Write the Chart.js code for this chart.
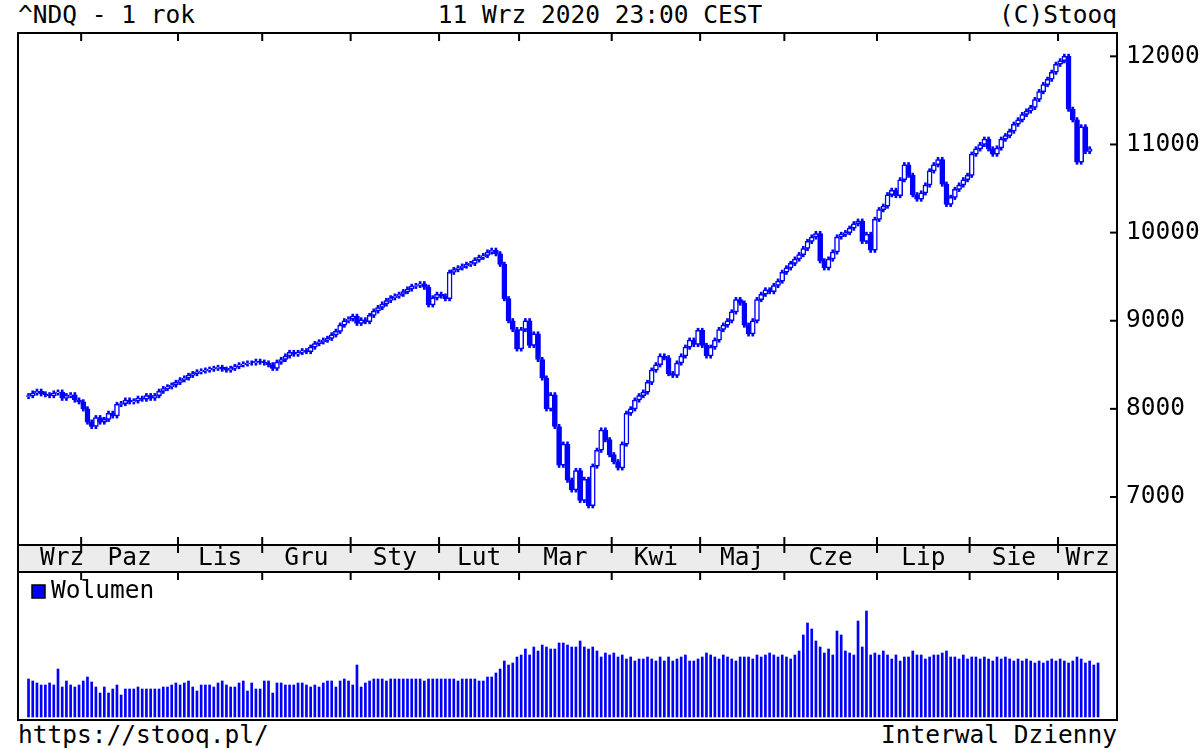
<!DOCTYPE html>
<html><head><meta charset="utf-8">
<script src="https://cdn.jsdelivr.net/npm/chart.js@4.4.0/dist/chart.umd.min.js"></script>
<style>
body{margin:0;background:#fff;width:1200px;height:750px;overflow:hidden;position:relative;font-family:"DejaVu Sans Mono",monospace}
canvas{position:absolute;left:0}
.t{position:absolute;font-size:24.5px;color:#000;white-space:pre;line-height:24px}
</style></head><body>
<div class="t" style="left:18px;top:3px">^NDQ - 1 rok</div>
<div class="t" style="left:0;width:1200px;text-align:center;top:3px">11 Wrz 2020 23:00 CEST</div>
<div class="t" style="right:83px;top:3px">(C)Stooq</div>
<div class="t" style="left:18px;top:723px">https://stooq.pl/</div>
<div class="t" style="right:83px;top:723px">Interwal Dzienny</div>
<div style="position:absolute;left:0;top:0;width:1200px;height:572px"><canvas id="c1"></canvas></div>
<div style="position:absolute;left:0;top:572px;width:1200px;height:178px"><canvas id="c2"></canvas></div>
<script>
const monthNames=["Wrz","Paz","Lis","Gru","Sty","Lut","Mar","Kwi","Maj","Cze","Lip","Sie","Wrz"];
const monthDays=[13,23,20,21,21,19,22,21,20,22,22,21,8];
const closes=[
8150,8180,8200,8170,8160,8150,8180,8190,8120,8150,8160,8100,8080,
8000,7850,7800,7900,7850,7880,7950,7920,8050,8060,8100,8080,8090,8120,8110,8150,8120,8150,8200,8230,8250,8270,8300,
8330,8350,8380,8400,8420,8430,8440,8450,8460,8470,8450,8440,8460,8480,8500,8510,8520,8520,8540,8530,
8520,8500,8460,8530,8560,8600,8640,8620,8640,8660,8650,8700,8740,8760,8780,8800,8840,8880,8950,9000,9020,
9050,8970,9010,8990,9060,9110,9150,9190,9230,9260,9280,9300,9330,9360,9390,9400,9420,9380,9180,9260,9300,
9280,9250,9550,9580,9600,9620,9640,9650,9690,9720,9740,9780,9800,9760,9640,9250,9000,8900,8680,
8900,9000,8720,8850,8560,8350,8000,8160,7800,7360,7600,7190,7080,7300,6960,7200,6900,7350,7530,7760,7650,7480,
7400,7330,7600,7950,8000,8100,8150,8190,8300,8440,8500,8600,8580,8400,8380,8520,8600,8700,8780,8730,8890,
8720,8600,8700,8780,8900,8950,9000,9100,9240,9200,8950,8850,9000,9240,9300,9350,9330,9400,9450,9550,
9600,9650,9700,9750,9820,9900,9950,9990,9680,9600,9700,9780,9950,9980,10000,10050,10100,10130,9900,9980,9800,10150,
10260,10300,10430,10480,10420,10600,10770,10650,10430,10380,10450,10540,10700,10770,10830,10550,10320,10400,10490,10540,10600,10650,
10890,10950,11000,11060,10950,10890,10960,11060,11100,11150,11230,11280,11340,11380,11420,11510,11600,11680,11740,11820,11910,
11950,12000,11400,11280,10800,11200,10920,10950];
const opens=[8140].concat(closes.slice(0,-1));
const volumes=[
38,36,34,32,32,34,32,48,30,36,32,30,32,
36,40,35,30,24,30,24,28,32,22,28,28,28,30,28,28,28,28,28,30,30,32,34,32,34,
36,30,26,32,32,32,30,34,36,32,30,30,34,36,26,34,28,28,36,36,
24,34,34,32,32,32,34,34,32,30,32,30,34,36,36,30,36,38,36,32,52,
30,34,36,38,38,38,36,38,38,38,38,38,38,38,38,36,38,38,38,38,38,
38,38,36,38,38,38,38,36,36,40,40,44,48,56,52,54,60,62,68,
62,70,66,72,70,68,68,74,74,72,70,70,76,70,68,70,66,60,64,62,64,60,
62,58,60,56,58,58,60,58,56,60,56,60,56,58,60,62,56,56,58,60,64,
62,60,58,62,60,58,56,60,60,60,58,62,60,62,64,62,60,62,60,58,
62,66,82,94,88,76,70,64,68,62,86,82,66,64,62,96,70,106,62,64,62,66,
62,58,62,56,60,60,66,62,62,58,60,62,62,64,66,60,60,58,62,58,60,60,
58,60,58,56,60,58,60,58,56,58,56,58,56,54,56,54,56,58,56,58,56,
54,56,60,58,54,56,52,54];
const yTicks=[7000,8000,9000,10000,11000,12000];
const N=closes.length;
const LEAD=2, TRAIL=6;
const labels=Array.from({length:LEAD+N+TRAIL},(_,i)=>i);
const pad=a=>Array(LEAD).fill(null).concat(a,Array(TRAIL).fill(null));
const bodies=pad(closes.map((c,i)=>[opens[i],c]));
const wicks=pad(closes.map((c,i)=>[Math.min(opens[i],c)-25,Math.max(opens[i],c)+25]));
const bodyFill=pad(closes.map((c,i)=>c>=opens[i]?'#ffffff':'#0000ff'));
const vols=pad(volumes);
const BLUE='#0000ff';
const FONT='24.5px "DejaVu Sans Mono", monospace';
const monthStarts=[];let acc=LEAD;for(const d of monthDays){monthStarts.push(acc);acc+=d;}

function edgeX(xs,i){
  if(i<=0) return xs.left; if(i>=labels.length) return xs.right;
  return (xs.getPixelForValue(i-1)+xs.getPixelForValue(i))/2;
}
const pricePlugin={id:'pp',afterDraw(ch){
  const c=ch.ctx,a=ch.chartArea,xs=ch.scales.x,ys=ch.scales.y;
  c.save();
  c.fillStyle='#ececec';c.fillRect(a.left,a.bottom,a.right-a.left,27);
  c.strokeStyle='#000';c.lineWidth=2;
  c.strokeRect(a.left,a.top,a.right-a.left,a.bottom-a.top+27);
  c.beginPath();c.moveTo(a.left,a.bottom);c.lineTo(a.right,a.bottom);c.stroke();
  c.fillStyle='#000';c.font=FONT;c.textBaseline='middle';
  c.textAlign='left';
  for(const t of yTicks){const y=ys.getPixelForValue(t);
    c.beginPath();c.moveTo(a.right-7,y);c.lineTo(a.right,y);c.stroke();
    c.fillText(String(t),a.right+9,y);}
  c.textAlign='center';
  monthStarts.forEach((s,k)=>{
    const x0=edgeX(xs,s),x1=edgeX(xs,s+monthDays[k]);
    if(k>0){c.beginPath();c.moveTo(x0,a.top);c.lineTo(x0,a.top+8);c.moveTo(x0,a.bottom-8);c.lineTo(x0,a.bottom+8);c.stroke();}
    const lx0=k===0?Math.max(x0,a.left+25):x0, lx1=k===monthNames.length-1?a.right:x1;
    c.fillText(monthNames[k],(lx0+lx1)/2,a.bottom+14);
  });
  c.restore();
}};
new Chart(document.getElementById('c1'),{
  type:'bar',
  data:{labels,datasets:[
    {data:wicks,backgroundColor:BLUE,barThickness:2,grouped:false,order:2},
    {data:bodies,backgroundColor:bodyFill,borderColor:BLUE,borderWidth:1.5,borderSkipped:false,barThickness:5,grouped:false,order:1}
  ]},
  options:{responsive:true,maintainAspectRatio:false,animation:false,
    layout:{padding:{left:18,right:83,top:33,bottom:27}},
    plugins:{legend:{display:false},tooltip:{enabled:false}},
    scales:{x:{display:false,offset:true},y:{display:false,min:6455,max:12265}}},
  plugins:[pricePlugin]
});
const volPlugin={id:'vp',afterDraw(ch){
  const c=ch.ctx,a=ch.chartArea,xs=ch.scales.x;
  c.save();c.strokeStyle='#000';c.lineWidth=2;
  c.strokeRect(a.left,a.top,a.right-a.left,a.bottom-a.top);
  monthStarts.forEach((s,k)=>{if(k>0){const x=edgeX(xs,s);c.beginPath();c.moveTo(x,a.top);c.lineTo(x,a.top+8);c.stroke();}});
  c.fillStyle=BLUE;c.fillRect(a.left+14,a.top+13,13,13);
  c.lineWidth=1.5;c.strokeRect(a.left+14,a.top+13,13,13);
  c.fillStyle='#000';c.font=FONT;c.textBaseline='middle';c.textAlign='left';
  c.fillText('Wolumen',a.left+33,a.top+20);
  c.restore();
}};
new Chart(document.getElementById('c2'),{
  type:'bar',
  data:{labels,datasets:[{data:vols,backgroundColor:BLUE,barThickness:2}]},
  options:{responsive:true,maintainAspectRatio:false,animation:false,
    layout:{padding:{left:18,right:83,top:0,bottom:30}},
    plugins:{legend:{display:false},tooltip:{enabled:false}},
    scales:{x:{display:false,offset:true},y:{display:false,min:-3,max:145}}},
  plugins:[volPlugin]
});
</script></body></html>
